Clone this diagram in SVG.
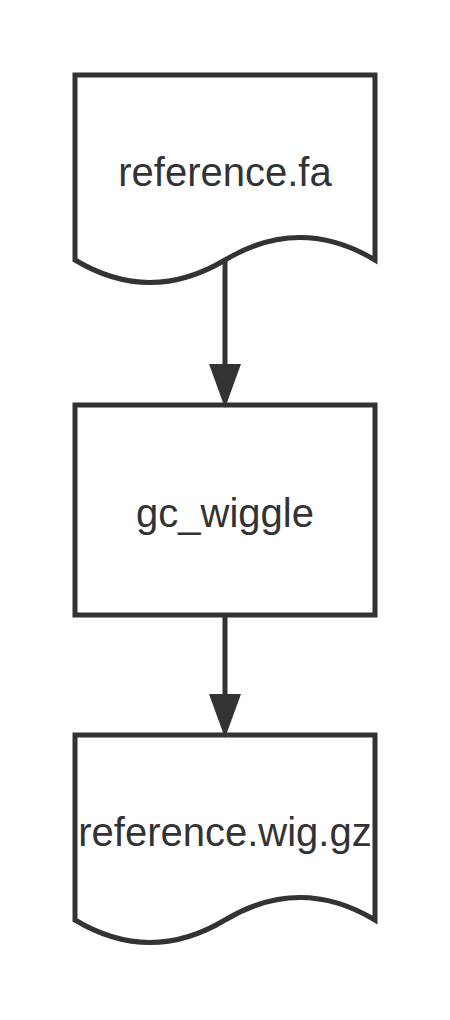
<svg xmlns="http://www.w3.org/2000/svg" width="450" height="1020" viewBox="0 0 450 1020">
<style>
.shape{fill:#ffffff;stroke:#333333;stroke-width:5;stroke-linejoin:miter}
.label{font-family:"Liberation Sans",Arial,sans-serif;font-size:40px;fill:#333333;text-anchor:middle}
.conn{fill:none;stroke:#333333;stroke-width:5}
</style>
<defs>
<marker id="arrow" markerUnits="userSpaceOnUse" viewBox="0 0 44 32" refX="6" refY="16" markerWidth="44" markerHeight="32" orient="auto">
<path d="M0,0 L44,16 L0,32 Z" fill="#333333"/>
</marker>
</defs>
<rect width="450" height="1020" fill="#ffffff"/>
<g id="node-reference-fa">
<path class="shape" d="M75,75 L375,75 L375,260 C325,230 275,230 225,260 C175,290 125,290 75,260 Z"/>
<text class="label" x="225" y="186">reference.fa</text>
</g>
<g id="node-gc-wiggle">
<rect class="shape" x="75" y="405" width="300" height="210"/>
<text class="label" x="225" y="527">gc_wiggle</text>
</g>
<g id="node-reference-wig-gz">
<path class="shape" d="M75,735 L375,735 L375,920 C325,890 275,890 225,920 C175,950 125,950 75,920 Z"/>
<text class="label" x="225" y="846">reference.wig.gz</text>
</g>
<g id="connectors">
<line class="conn" x1="225" y1="260" x2="225" y2="370" marker-end="url(#arrow)"/>
<line class="conn" x1="225" y1="615" x2="225" y2="700" marker-end="url(#arrow)"/>
</g>
</svg>
